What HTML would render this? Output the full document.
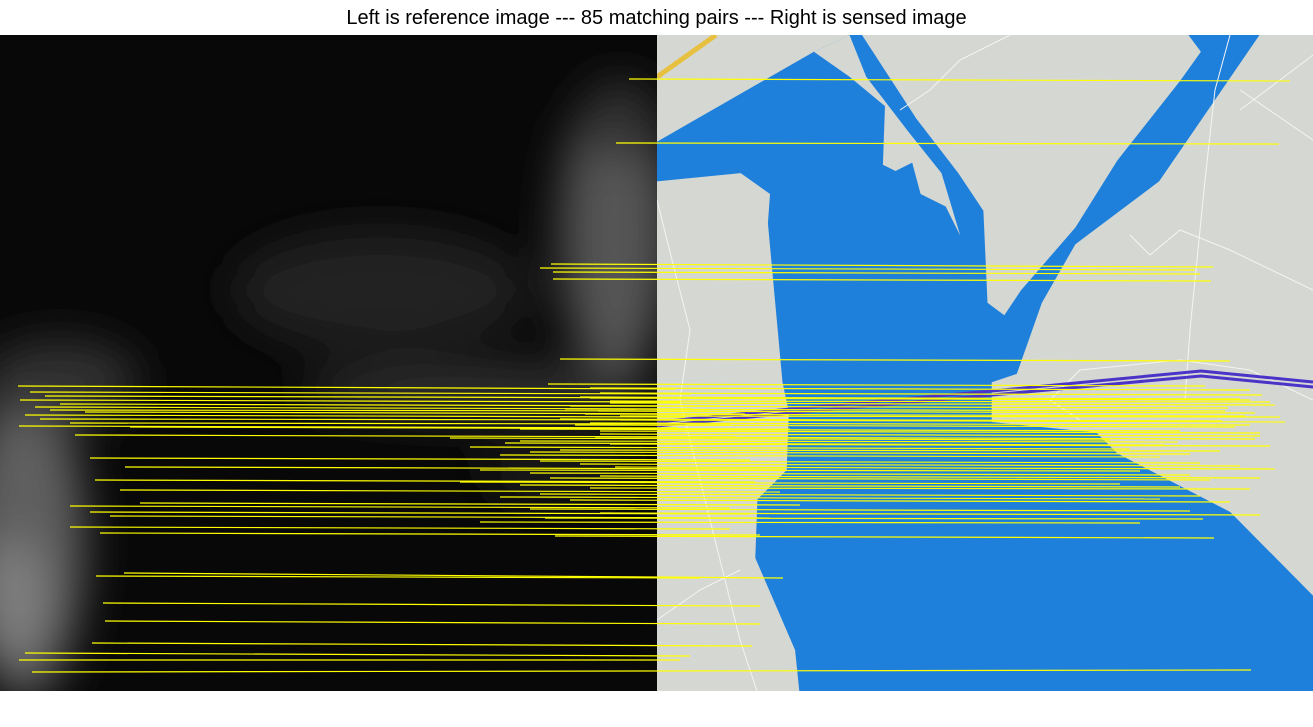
<!DOCTYPE html>
<html><head><meta charset="utf-8">
<style>
html,body{margin:0;padding:0;background:#fff;width:1313px;height:727px;overflow:hidden}
#title{position:absolute;left:0;top:7px;width:1313px;text-align:center;font-family:"Liberation Sans",sans-serif;font-size:20px;color:#000}
svg{position:absolute;left:0;top:0}
</style></head>
<body>
<div id="title">Left is reference image --- 85 matching pairs --- Right is sensed image</div>
<svg id="chart" width="1313" height="727">
<defs>
<filter id="blur" x="-50%" y="-50%" width="200%" height="200%"><feGaussianBlur stdDeviation="22"/></filter>
<clipPath id="leftClip"><rect x="0" y="35" width="657" height="656"/></clipPath>
<clipPath id="rightClip"><rect x="657" y="35" width="656" height="656"/></clipPath>
</defs>
<g clip-path="url(#leftClip)">
<rect x="0" y="35" width="657" height="656" fill="#080808"/>
<g filter="url(#blur)">
<ellipse cx="25" cy="540" rx="60" ry="160" fill="#5e5e5e"/>
<ellipse cx="10" cy="600" rx="40" ry="60" fill="#7e7e7e"/>
<ellipse cx="60" cy="380" rx="80" ry="40" fill="#333"/>
<ellipse cx="615" cy="230" rx="55" ry="150" fill="#555"/>
<ellipse cx="620" cy="120" rx="40" ry="40" fill="#333"/>
<ellipse cx="380" cy="290" rx="150" ry="60" fill="#242424"/>
<ellipse cx="480" cy="390" rx="180" ry="25" fill="#333"/>
<ellipse cx="560" cy="470" rx="80" ry="30" fill="#1e1e1e"/>
</g>
</g>
<g clip-path="url(#rightClip)">
<rect x="657" y="35" width="656" height="656" fill="#d5d8d2"/>
<polygon id="water" fill="#1f80dc" points=""/>
<polygon id="tongue" fill="#d5d8d2" points=""/>
<polygon id="penin" fill="#d5d8d2" points=""/>
<g stroke="#f4f4f4" stroke-width="1" fill="none">
<polyline points="657,200 672,260 690,330 680,400 700,480 720,560 740,640 757,691"/>
<polyline points="1230,35 1215,90 1205,180 1190,330 1185,400"/>
<polyline points="1010,35 960,60 930,90 900,110"/>
<polyline points="1313,55 1280,80 1240,110"/>
<polyline points="1240,90 1313,140"/>
<polyline points="1080,420 1050,400 1080,370 1180,360 1250,370 1313,400"/>
<polyline points="657,620 700,590 740,570"/>
<polyline points="1130,235 1150,255 1180,230 1230,250 1313,290"/>
</g>
<line x1="657" y1="77" x2="716" y2="35" stroke="#e8c040" stroke-width="5"/>
<path d="M657,422 L791,409 L992,391 L1201,371 L1313,382" stroke="#4b33c8" stroke-width="3" fill="none"/>
<path d="M657,426 L791,413 L992,395 L1201,376 L1313,387" stroke="#4b33c8" stroke-width="3" fill="none"/>
</g>
<g id="lines"></g>
</svg>
<script>
const srcX=[629,616,551,540,553,553,560,18,548,590,30,600,45,580,20,610,60,35,570,50,85,598,25,620,40,560,70,590,19,130,520,75,600,450,520,610,470,560,90,500,540,580,125,480,530,600,95,460,520,590,120,540,500,570,140,70,530,90,600,110,545,480,70,100,555,124,96,103,105,92,25,19,32,590,610,565,585,620,575,600,595,505,530,615,550];
const srcY=[79,143,264,268,272,279,359,386,384,388,392,393,396,397,400,401,404,407,406,410,412,411,415,416,419,419,423,423,426,427,429,435,434,438,441,444,447,450,458,455,461,464,467,470,473,476,480,482,485,488,490,494,497,500,503,506,509,512,513,516,518,522,527,533,536,573,576,603,621,643,653,660,672,398,403,409,414,420,425,431,437,443,452,467,478];
const dstX=[1290,1279,1213,1195,1200,1211,1230,675,1205,1250,690,1262,705,1240,680,1270,720,692,1228,710,745,1255,685,1280,700,1222,730,1250,678,790,1180,735,1260,1110,1178,1270,1130,1220,750,1160,1200,1240,785,1140,1190,1260,755,1120,1180,1250,780,1200,1160,1230,800,730,1190,750,1260,770,1203,1140,730,760,1214,783,700,760,760,752,690,680,1251,1250,1275,1225,1245,1285,1235,1260,1255,1165,1190,1275,1210];
const dstY=[81,144,267,270,274,281,361,389,386,390,394,395,398,399,402,402,406,409,408,411,414,413,417,417,420,421,424,425,428,429,431,437,436,440,442,446,449,451,460,457,463,466,469,471,475,478,482,484,487,489,492,496,499,502,505,508,511,514,515,518,519,523,529,535,538,578,578,606,624,646,656,660,670,400,405,411,416,422,427,433,439,445,454,469,480];
const waterPts=[[375,40],[460,0],[1440,0],[1200,350],[1000,500],[920,640],[860,810],[800,830],[800,925],[1050,950],[1100,1000],[1370,1140],[1568,1340],[1568,1568],[340,1568],[330,1470],[235,1250],[240,1110],[310,1040],[315,900],[300,830],[265,450],[270,380],[200,330],[0,350],[0,255]];
const tonguePts=[[490,0],[620,200],[720,330],[780,420],[790,640],[830,670],[870,610],[1000,460],[1100,300],[1250,110],[1300,40],[1270,0]];
const peninPts=[[375,40],[460,0],[500,100],[600,230],[680,330],[725,480],[690,410],[630,380],[610,305],[570,325],[540,310],[545,170],[460,100]];
function mp(a){return a.map(p=>(657+p[0]/2.39).toFixed(1)+','+(35+p[1]/2.39).toFixed(1)).join(' ');}
document.getElementById('water').setAttribute('points',mp(waterPts));
document.getElementById('tongue').setAttribute('points',mp(tonguePts));
document.getElementById('penin').setAttribute('points',mp(peninPts));
const g=document.getElementById('lines');
const NS='http://www.w3.org/2000/svg';
for(let i=0;i<srcX.length;i++){
  const l=document.createElementNS(NS,'line');
  l.setAttribute('x1',srcX[i]);l.setAttribute('y1',srcY[i]);
  l.setAttribute('x2',dstX[i]);l.setAttribute('y2',dstY[i]);
  l.setAttribute('stroke','#ffff00');l.setAttribute('stroke-width','1.2');
  
  
  g.appendChild(l);
}
</script>
</body></html>
